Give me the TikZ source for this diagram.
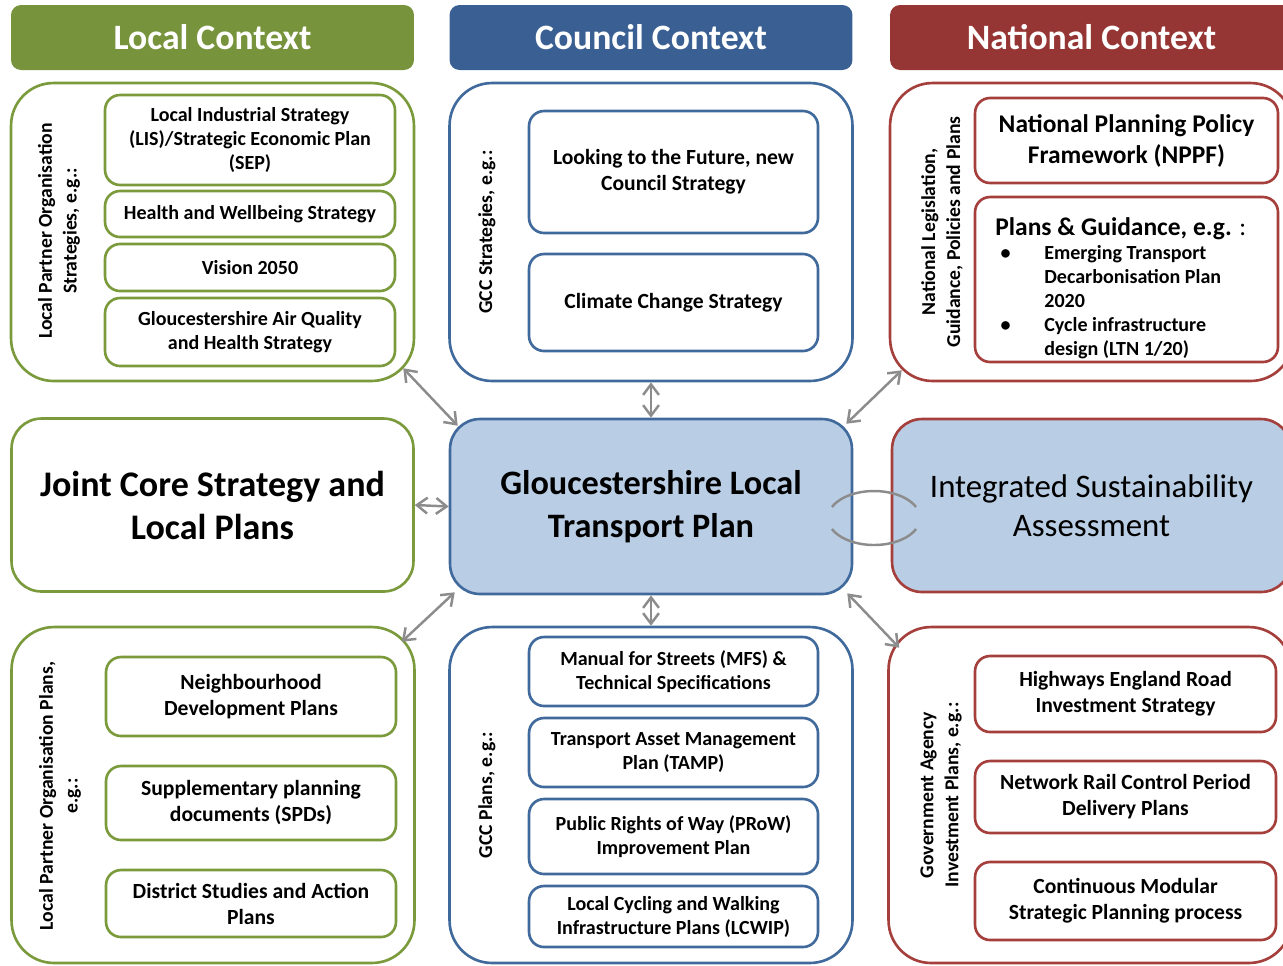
\documentclass[tikz,border=0pt]{standalone}
\usepackage{fontspec}
\setmainfont{Carlito}
\usetikzlibrary{arrows.meta,calc}
\definecolor{lcGreen}{HTML}{77933C}
\definecolor{ccBlue}{HTML}{3A6093}
\definecolor{ncRed}{HTML}{963634}
\definecolor{lcLine}{HTML}{7A9A3C}
\definecolor{ccLine}{HTML}{40699C}
\definecolor{ncLine}{HTML}{A53F3C}
\definecolor{planFill}{HTML}{B9CDE5}
\definecolor{linkGrey}{HTML}{8C8C8C}
\newcommand{\planbullet}{\makebox[0.98cm][l]{\hspace{3pt}\textbullet}}
\newcommand{\planindent}{\makebox[0.98cm][l]{}}

\begin{document}
\begin{tikzpicture}[x=0.02cm, y=-0.02cm,
  title/.style={fill=#1, rounded corners=0.2cm, minimum width=8.06cm, minimum height=1.3cm,
    text=white, font=\bfseries\fontsize{20.3}{24}\selectfont},
  outer/.style={draw=#1, line width=1.5pt, rounded corners=0.85cm, minimum width=8.06cm, minimum height=5.96cm},
  ibox/.style={draw=#1, line width=1.5pt, rounded corners=0.3cm, align=center, minimum width=5.8cm},
  lbl/.style={rotate=90, align=center, font=\bfseries\fontsize{11.2}{14.2}\selectfont},
  big/.style={draw=#1, line width=1.5pt, rounded corners=0.6cm, align=center, minimum width=8.04cm, minimum height=3.46cm},
  txtS/.style={font=\bfseries\fontsize{11.4}{13.66}\selectfont},
  txtM/.style={font=\bfseries\fontsize{12.3}{14.8}\selectfont},
  link/.style={draw=linkGrey, line width=1.4pt, {Straight Barb[length=6pt,width=9pt]}-{Straight Barb[length=6pt,width=9pt]}}]
  \useasboundingbox (0,0) rectangle (1283,965);

  % headers
  \node[title=lcGreen] (lcTitle) at (212.5,37.5) {Local Context};
  \node[title=ccBlue] (ccTitle) at (651,37.5) {Council Context};
  \node[title=ncRed] (ncTitle) at (1091.5,37.5) {National Context};

  % local strategies
  \begin{scope}[txtS]
    \node[outer=lcLine] (lcOuter) at (212.5,232) {};
    \node[lbl] (lcLbl) at (59,231) {Local Partner Organisation\\Strategies, e.g.:};
    \node[ibox=lcLine, minimum height=1.8cm] (lis) at (250,140) {Local Industrial Strategy\\(LIS)/Strategic Economic Plan\\(SEP)};
    \node[ibox=lcLine, minimum height=0.92cm] (hws) at (250,214) {Health and Wellbeing Strategy};
    \node[ibox=lcLine, minimum height=0.94cm] (vis) at (250,267.5) {Vision 2050};
    \node[ibox=lcLine, minimum height=1.36cm] (aqs) at (250,332) {Gloucestershire Air Quality\\and Health Strategy};
  \end{scope}

  % council strategies
  \begin{scope}[txtM]
    \node[outer=ccLine] (ccOuter) at (651,232) {};
    \node[lbl] (ccLbl) at (487,232) {GCC Strategies, e.g.:};
    \node[ibox=ccLine, minimum width=5.78cm, minimum height=2.44cm] (future) at (673.5,172) {Looking to the Future, new\\Council Strategy};
    \node[ibox=ccLine, minimum width=5.78cm, minimum height=1.94cm] (climate) at (673.5,302.5) {Climate Change Strategy};
  \end{scope}

  % national policy
  \begin{scope}[txtS]
    \node[outer=ncLine] (ncOuter) at (1091.5,232) {};
    \node[lbl] (ncLbl) at (942,232) {National Legislation,\\Guidance, Policies and Plans};
    \node[ibox=ncLine, minimum width=6.06cm, minimum height=1.7cm, font=\bfseries\fontsize{14.5}{17.6}\selectfont] (nppf) at (1126.5,140.5) {National Planning Policy\\Framework (NPPF)};
    \node[ibox=ncLine, minimum width=6.06cm, minimum height=3.3cm] (plans) at (1126.5,279.5) {};
    \node[anchor=north west, inner sep=0pt, align=left] (plansTxt) at (995,217)
      {{\fontsize{14.5}{17}\selectfont Plans \& Guidance, e.g.\mdseries{} :}\\
       \planbullet Emerging Transport\\
       \planindent Decarbonisation Plan\\
       \planindent 2020\\
       \planbullet Cycle infrastructure\\
       \planindent design (LTN 1/20)};
  \end{scope}

  % middle row
  \node[big=lcLine, font=\bfseries\fontsize{20.5}{24.5}\selectfont] (jcs) at (212.5,505) {Joint Core Strategy and\\Local Plans};
  \node[big=ccLine, fill=planFill, minimum height=3.5cm, font=\bfseries\fontsize{19.5}{24.5}\selectfont] (ltp) at (651,506.5) {Gloucestershire Local\\Transport Plan};
  \node[big=ncLine, fill=planFill, minimum width=7.98cm, font=\fontsize{18.7}{22}\selectfont] (isa) at (1091.5,505.5) {Integrated Sustainability\\Assessment};

  % local plans
  \begin{scope}[txtM]
    \node[outer=lcLine, minimum height=6.72cm] (lpOuter) at (213,795) {};
    \node[lbl] (lpLbl) at (60,796) {Local Partner Organisation Plans,\\e.g.:};
    \node[ibox=lcLine, minimum height=1.58cm] (ndp) at (251,696.5) {Neighbourhood\\Development Plans};
    \node[ibox=lcLine, minimum height=1.48cm] (spd) at (251,803) {Supplementary planning\\documents (SPDs)};
    \node[ibox=lcLine, minimum height=1.34cm] (dsa) at (251,903.5) {District Studies and Action\\Plans};
  \end{scope}

  % council plans
  \begin{scope}[txtS]
    \node[outer=ccLine, minimum height=6.72cm] (cpOuter) at (651,795) {};
    \node[lbl] (cpLbl) at (487,795) {GCC Plans, e.g.:};
    \node[ibox=ccLine, minimum width=5.78cm, minimum height=1.38cm] (mfs) at (673.5,671.5) {Manual for Streets (MFS) \&\\Technical Specifications};
    \node[ibox=ccLine, minimum width=5.78cm, minimum height=1.38cm] (tamp) at (673.5,752.5) {Transport Asset Management\\Plan (TAMP)};
    \node[ibox=ccLine, minimum width=5.78cm, minimum height=1.5cm] (prow) at (673.5,836.5) {Public Rights of Way (PRoW)\\Improvement Plan};
    \node[ibox=ccLine, minimum width=5.78cm, minimum height=1.22cm] (lcwip) at (673.5,916.5) {Local Cycling and Walking\\Infrastructure Plans (LCWIP)};
  \end{scope}

  % agency plans
  \begin{scope}[txtM]
    \node[outer=ncLine, minimum height=6.72cm] (npOuter) at (1090,795) {};
    \node[lbl] (npLbl) at (941,795) {Government Agency\\Investment Plans, e.g.:};
    \node[ibox=ncLine, minimum width=6.02cm, minimum height=1.52cm] (he) at (1125.5,694) {Highways England Road\\Investment Strategy};
    \node[ibox=ncLine, minimum width=6.02cm, minimum height=1.44cm] (nr) at (1125.5,797) {Network Rail Control Period\\Delivery Plans};
    \node[ibox=ncLine, minimum width=6.02cm, minimum height=1.56cm] (cmsp) at (1125.5,901) {Continuous Modular\\Strategic Planning process};
  \end{scope}

  % links to the LTP
  \draw[link] ([shift={(-12,-14)}]lcOuter.south east) -- ([shift={(9,8)}]ltp.north west);
  \draw[link] (ccOuter.south) -- (ltp.north);
  \draw[link] ([shift={(13,-12)}]ncOuter.south west) -- ([shift={(-7,6)}]ltp.north east);
  \draw[link] (jcs.east) -- (ltp.west);
  \draw[link] ([shift={(6,-3)}]ltp.south west) -- ([shift={(-14,16)}]lpOuter.north east);
  \draw[link] (ltp.south) -- (cpOuter.north);
  \draw[link] ([shift={(-6,-2)}]ltp.south east) -- ([shift={(12,22)}]npOuter.north west);

  % ring between LTP and ISA
  \coordinate (ring) at ($(ltp.east)!0.5!(isa.west)+(2,12)$);
  \draw[linkGrey, line width=1.4pt] (ring) ++(204:46 and 27) arc[start angle=204, end angle=336, x radius=46, y radius=27];
  \draw[linkGrey, line width=1.4pt] (ring) ++(24:46 and 27) arc[start angle=24, end angle=156, x radius=46, y radius=27];
\end{tikzpicture}
\end{document}
